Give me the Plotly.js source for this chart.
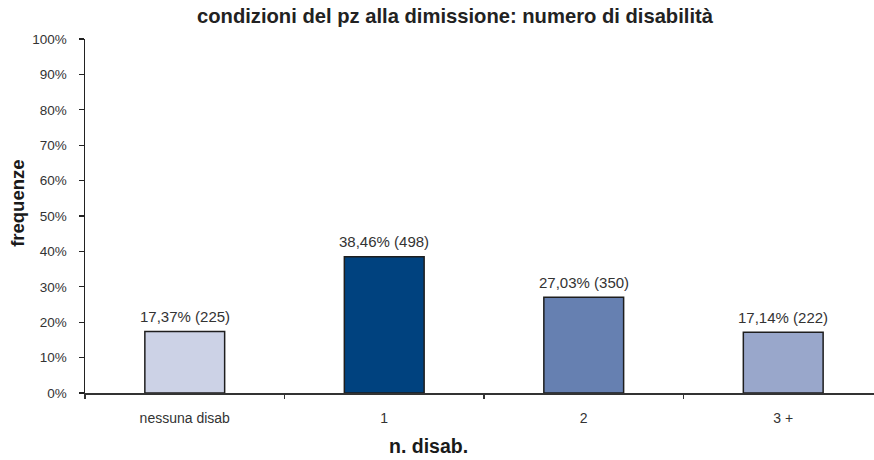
<!DOCTYPE html>
<html>
<head>
<meta charset="utf-8">
<script src="https://cdn.plot.ly/plotly-3.0.1.min.js"></script>
<style>
  html, body { margin: 0; padding: 0; background: #fff; }
  #chart { width: 874px; height: 460px; }
</style>
</head>
<body>
<div id="chart"></div>
<script>
// Number of disabilities at discharge: share (%) and patient count per class
const categories = ['nessuna disab', '1', '2', '3 +'];
const percentages = [17.37, 38.46, 27.03, 17.14];
const counts = [225, 498, 350, 222];
const barColors = ['#CCD2E6', '#00427F', '#6680B1', '#99A7CB'];
const yTickValues = [0, 10, 20, 30, 40, 50, 60, 70, 80, 90, 100];
const yTickLabels = yTickValues.map(v => v + '%');

const FONT = '"Liberation Sans", Arial, Helvetica, sans-serif';

// Italian-style label: "17,37% (225)"
const labelText = percentages.map((p, i) =>
  p.toFixed(2).replace('.', ',') + '% (' + counts[i] + ')');

const trace = {
  type: 'bar',
  x: categories,
  y: percentages,
  width: 0.4,
  marker: {
    color: barColors,
    line: { color: '#1E1E1E', width: 1.5 }
  },
  hoverinfo: 'skip'
};

const valueLabels = categories.map((c, i) => ({
  x: c,
  y: percentages[i],
  xref: 'x',
  yref: 'y',
  text: labelText[i],
  showarrow: false,
  yanchor: 'middle',
  yshift: 15,
  font: { family: FONT, size: 15, color: '#333333' }
}));

const axisTitles = [
  {
    text: '<b>frequenze</b>',
    xref: 'paper', yref: 'paper',
    x: -0.085, y: 0.537,
    xanchor: 'center', yanchor: 'middle',
    textangle: -90,
    showarrow: false,
    font: { family: FONT, size: 18.5, color: '#1A1A1A' }
  },
  {
    text: '<b>n. disab.</b>',
    xref: 'x', yref: 'paper',
    x: 1.22, y: -0.15,
    xanchor: 'center', yanchor: 'middle',
    showarrow: false,
    font: { family: FONT, size: 19.5, color: '#1A1A1A' }
  }
];

const layout = {
  width: 874,
  height: 460,
  margin: { l: 85, r: 0, t: 39, b: 67 },
  paper_bgcolor: '#FFFFFF',
  plot_bgcolor: '#FFFFFF',
  showlegend: false,
  font: { family: FONT, color: '#333333' },
  title: {
    text: '<b>condizioni del pz alla dimissione: numero di disabilità</b>',
    x: 455 / 874,
    xref: 'container',
    xanchor: 'center',
    y: 1 - 16 / 460,
    yref: 'container',
    yanchor: 'middle',
    font: { family: FONT, size: 20.2, color: '#222222' }
  },
  xaxis: {
    type: 'category',
    range: [-0.5, 3.455],
    showline: true,
    linecolor: '#333333',
    linewidth: 1.5,
    ticks: 'outside',
    tickson: 'boundaries',
    ticklen: 4,
    tickwidth: 1.2,
    tickcolor: '#333333',
    ticklabelstandoff: 12,
    showgrid: false,
    zeroline: false,
    tickfont: { family: FONT, size: 14, color: '#333333' },
    fixedrange: true
  },
  yaxis: {
    range: [0, 100],
    tickvals: yTickValues,
    ticktext: yTickLabels,
    showline: true,
    linecolor: '#222222',
    linewidth: 1.5,
    ticks: 'outside',
    ticklen: 5,
    tickwidth: 1.2,
    tickcolor: '#222222',
    ticklabelstandoff: 9,
    showgrid: false,
    zeroline: false,
    tickfont: { family: FONT, size: 13.5, color: '#333333' },
    fixedrange: true
  },
  annotations: valueLabels.concat(axisTitles)
};

Plotly.newPlot('chart', [trace], layout, { displayModeBar: false, staticPlot: true });
</script>
</body>
</html>
